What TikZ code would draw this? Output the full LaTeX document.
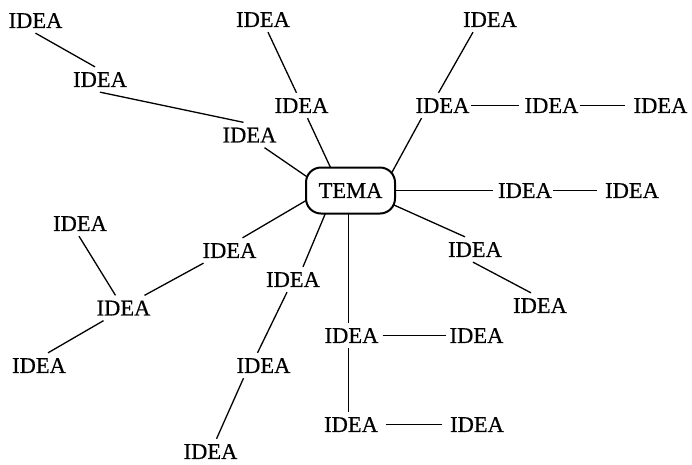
\documentclass[tikz,border=0pt]{standalone}
\usepackage{fontspec}
\setmainfont{Liberation Serif}
\newfontfamily\ideafont{Liberation Serif}[FakeBold=0.5]
\usetikzlibrary{backgrounds}
\begin{document}
\begin{tikzpicture}[x=1pt,y=-1pt,
  idea/.style={font=\ideafont\fontsize{22.5}{27}\selectfont, inner xsep=1pt, inner ysep=5pt,
               text height=14.9pt, text depth=0pt},
  topic/.style={draw, line width=2pt, rounded corners=15pt, fill=white,
                minimum width=89pt, minimum height=46pt, inner sep=0pt,
                font=\ideafont\fontsize{22.5}{27}\selectfont, text height=14.9pt, text depth=0pt},
  link/.style={line width=1.3pt}]
\useasboundingbox (0,0) rectangle (692,464);

% central topic
\node[topic] (tema) at (350.5,190.5) {TEMA};
\coordinate (stem) at ([xshift=-2pt]tema.center);

% ideas
\node[idea] (i1)  at (35.5,20.5)  {IDEA};
\node[idea] (i2)  at (100,79.5)   {IDEA};
\node[idea] (i3)  at (249.5,135)  {IDEA};
\node[idea] (i4)  at (263,19.5)   {IDEA};
\node[idea] (i5)  at (301.5,105.5) {IDEA};
\node[idea] (i6)  at (490,19.5)   {IDEA};
\node[idea] (i7)  at (442.5,105.5) {IDEA};
\node[idea] (i8)  at (551.5,105.5) {IDEA};
\node[idea] (i9)  at (660.5,105.5) {IDEA};
\node[idea] (r1)  at (525,190.5)  {IDEA};
\node[idea] (r2)  at (632,190.5)  {IDEA};
\node[idea] (d1)  at (475,249.5)  {IDEA};
\node[idea] (d2)  at (540,305.5)  {IDEA};
\node[idea] (i10) at (80,223.5)   {IDEA};
\node[idea] (i11) at (229.5,250.5) {IDEA};
\node[idea] (i12) at (123.5,308)  {IDEA};
\node[idea] (i13) at (39,365.5)   {IDEA};
\node[idea] (i14) at (293,279.5)  {IDEA};
\node[idea] (i15) at (263.5,365.5) {IDEA};
\node[idea] (i16) at (210.5,451.5) {IDEA};
\node[idea] (i17) at (351.5,335.5) {IDEA};
\node[idea] (i18) at (476.5,335.5) {IDEA};
\node[idea] (i19) at (351,424.5)  {IDEA};
\node[idea] (i20) at (477,424.5)  {IDEA};

% spokes that run into the topic box (hidden under its white fill)
\begin{pgfonlayer}{background}
\draw[link] ([xshift=15pt]i3.south) -- ([shift={(-25,-1)}]tema.center);
\draw[link] ([xshift=6pt]i5.south) -- ([shift={(-13,-8)}]tema.center);
\draw[link] ([xshift=-21pt]i7.south) -- ([shift={(31,1)}]tema.center);
\draw[link] (tema.center) -- ([xshift=-4pt]r1.west);
\draw[link] ([shift={(20,4)}]tema.center) -- ([xshift=-10pt]d1.north);
\draw[link] ([shift={(-24,-2)}]tema.center) -- ([xshift=13pt]i11.north);
\draw[link] ([shift={(-18,6)}]tema.center) -- ([xshift=10pt]i14.north);
\draw[link] (stem) -- (stem |- i17.north);
\end{pgfonlayer}

% branches between ideas
\draw[link] (i1.south) -- ([xshift=-5pt]i2.north);
\draw[link] (i2.south) -- ([xshift=-6pt]i3.north);
\draw[link] ([xshift=5pt]i4.south) -- ([xshift=-5pt]i5.north);
\draw[link] ([xshift=-17pt]i6.south) -- ([xshift=-4pt]i7.north);
\draw[link] (i7.east) -- ([xshift=-4pt]i8.west);
\draw[link] (i8.east) -- ([xshift=-7pt]i9.west);
\draw[link] (r1.east) -- ([xshift=-7pt]r2.west);
\draw[link] ([xshift=-2pt]d1.south) -- ([xshift=-9pt]d2.north);
\draw[link] ([xshift=-26pt]i11.south) -- ([xshift=21pt]i12.north);
\draw[link] ([xshift=-1pt]i10.south) -- ([xshift=-8pt]i12.north);
\draw[link] ([xshift=-20pt]i12.south) -- ([xshift=9pt]i13.north);
\draw[link] ([xshift=-6pt]i14.south) -- ([xshift=-6pt]i15.north);
\draw[link] ([xshift=-20pt]i15.south) -- ([xshift=6pt]i16.north);
\draw[link] ([xshift=3pt]i17.east) -- ([xshift=-2pt]i18.west);
\draw[link] (stem |- i17.south) -- (stem |- i19.north);
\draw[link] ([xshift=7pt]i19.east) -- ([xshift=-7pt]i20.west);
\end{tikzpicture}
\end{document}
